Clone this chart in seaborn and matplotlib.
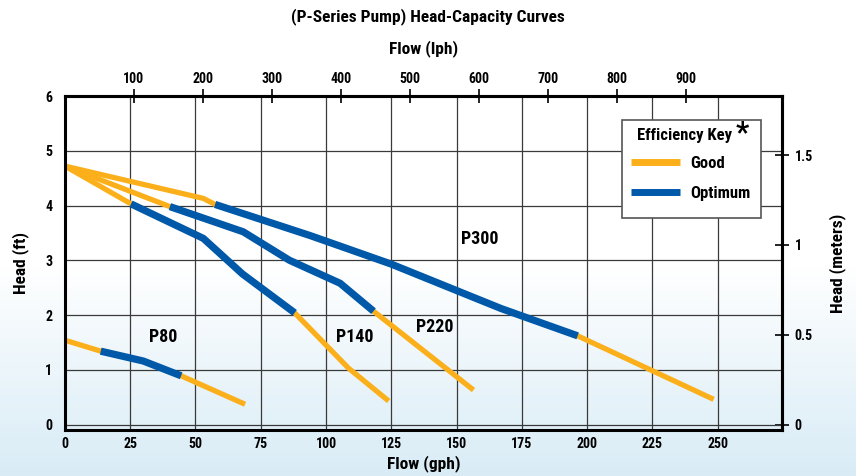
import numpy as np
import pandas as pd
import seaborn as sns
import matplotlib.pyplot as plt
from matplotlib.lines import Line2D
from matplotlib.patches import Rectangle
from matplotlib.colors import LinearSegmentedColormap

# pump curves, flow in gph, head in ft
pumps = ["P80", "P140", "P220", "P300"]

p80_good_gph = [0, 13.7, 30, 44.5, 69]
p80_good_ft = [1.54, 1.34, 1.16, 0.89, 0.37]
p80_opt_gph = [13.7, 30, 44.5]
p80_opt_ft = [1.34, 1.16, 0.89]

p140_good_gph = [0, 25.3, 53, 68, 88, 108.6, 124]
p140_good_ft = [4.72, 4.03, 3.40, 2.75, 2.04, 1.03, 0.43]
p140_opt_gph = [25.3, 53, 68, 88]
p140_opt_ft = [4.03, 3.40, 2.75, 2.04]

p220_good_gph = [0, 40.2, 68.3, 86, 105.4, 118.2, 156.5]
p220_good_ft = [4.72, 3.98, 3.52, 3.0, 2.58, 2.07, 0.63]
p220_opt_gph = [40.2, 68.3, 86, 105.4, 118.2]
p220_opt_ft = [3.98, 3.52, 3.0, 2.58, 2.07]

p300_good_gph = [0, 53, 57.5, 94, 125, 167, 196.4, 248.5]
p300_good_ft = [4.72, 4.13, 4.02, 3.45, 2.93, 2.12, 1.62, 0.46]
p300_opt_gph = [57.5, 94, 125, 167, 196.4]
p300_opt_ft = [4.02, 3.45, 2.93, 2.12, 1.62]

label_gph = [37.6, 111.2, 141.8, 159]
label_ft = [1.60, 1.59, 1.78, 3.39]

lph_ticks = [100, 200, 300, 400, 500, 600, 700, 800, 900]
meter_ticks = [0, 0.5, 1, 1.5]
meter_labels = ["0", "0.5", "1", "1.5"]

GOOD = "#fbb01b"
OPT = "#0058a8"

rows = []
curves = [
    ("P80", p80_good_gph, p80_good_ft, p80_opt_gph, p80_opt_ft),
    ("P140", p140_good_gph, p140_good_ft, p140_opt_gph, p140_opt_ft),
    ("P220", p220_good_gph, p220_good_ft, p220_opt_gph, p220_opt_ft),
    ("P300", p300_good_gph, p300_good_ft, p300_opt_gph, p300_opt_ft),
]
for name, gx, gy, ox, oy in curves:
    for x, y in zip(gx, gy):
        rows.append({"pump": name, "rating": "Good", "gph": x, "ft": y})
    for x, y in zip(ox, oy):
        rows.append({"pump": name, "rating": "Optimum", "gph": x, "ft": y})
df = pd.DataFrame(rows)

sns.set_style("white")
plt.rcParams["font.family"] = ["Roboto Condensed", "Barlow Condensed", "Archivo Narrow",
                               "PT Sans Narrow", "Liberation Sans", "DejaVu Sans"]
plt.rcParams["font.weight"] = "bold"
plt.rcParams["text.color"] = "black"
plt.rcParams["xtick.color"] = "black"
plt.rcParams["ytick.color"] = "black"
plt.rcParams["axes.labelcolor"] = "black"

fig = plt.figure(figsize=(8.56, 4.76), dpi=100)

# light blue gradient background
bg = fig.add_axes([0, 0, 1, 1], zorder=-10)
grad = np.concatenate([np.zeros(55), np.linspace(0, 1, 45)])[:, None]
cmap = LinearSegmentedColormap.from_list("bg", ["#ffffff", "#d9ecf6"])
bg.imshow(grad, aspect="auto", cmap=cmap, extent=[0, 1, 0, 1], origin="upper")
bg.axis("off")

ax = fig.add_axes([0.0759, 0.0966, 0.8377, 0.7017])
ax.set_facecolor("none")

for name in pumps:
    sub = df[(df.pump == name) & (df.rating == "Good")]
    sns.lineplot(data=sub, x="gph", y="ft", sort=False, estimator=None, ax=ax,
                 color=GOOD, linewidth=3.8, solid_capstyle="butt", zorder=3)
for name in pumps:
    sub = df[(df.pump == name) & (df.rating == "Optimum")]
    sns.lineplot(data=sub, x="gph", y="ft", sort=False, estimator=None, ax=ax,
                 color=OPT, linewidth=5.2, solid_capstyle="butt", zorder=4)

for name, x, y in zip(pumps, label_gph, label_ft):
    ax.text(x, y, name, ha="center", va="center", fontsize=13, fontweight="bold", zorder=5)

ax.set_xlim(0, 274.7)
ax.set_ylim(-0.1, 6)
ax.set_xticks(range(0, 251, 25))
ax.set_yticks(range(0, 7))
ax.grid(True, color="#3a3a3a", linewidth=0.9)
ax.tick_params(axis="both", length=0, labelsize=10)
ax.tick_params(axis="x", pad=5)
ax.tick_params(axis="y", pad=9)
for s in ax.spines.values():
    s.set_linewidth(2.2)
    s.set_color("black")
    s.set_zorder(6)

ax.set_xlabel("Flow (gph)", fontsize=12.5, fontweight="bold", labelpad=3)
ax.set_ylabel("Head (ft)", fontsize=12.5, fontweight="bold", labelpad=12)

top = ax.secondary_xaxis("top", functions=(lambda g: g * 3.785, lambda l: l / 3.785))
top.set_xticks(lph_ticks)
top.tick_params(direction="inout", length=10, width=1.2, labelsize=10, pad=2)
top.set_xlabel("Flow (lph)", fontsize=12.5, fontweight="bold", labelpad=14)
top.spines["top"].set_linewidth(2.2)

right = ax.secondary_yaxis("right", functions=(lambda f: f / 3.281, lambda m: m * 3.281))
right.set_yticks(meter_ticks)
right.set_yticklabels(meter_labels)
right.tick_params(direction="inout", length=10, width=1.2, labelsize=10, pad=4)
right.set_ylabel("Head (meters)", fontsize=12.5, fontweight="bold", labelpad=12)
right.spines["right"].set_linewidth(2.2)

# efficiency key: box, title and entries
ax.add_patch(Rectangle((0.7765, 0.634), 0.1935, 0.294, transform=ax.transAxes,
                       facecolor="white", edgecolor="#555555", linewidth=1.2,
                       zorder=9, clip_on=False))
ax.text(0.864, 0.883, "Efficiency Key", transform=ax.transAxes, fontsize=12,
        fontweight="bold", ha="center", va="center", zorder=11)
ax.text(0.945, 0.889, "*", transform=ax.transAxes, fontsize=21,
        fontweight="bold", ha="center", va="center", zorder=11)
handles = [Line2D([], [], color=GOOD, linewidth=5, solid_capstyle="butt"),
           Line2D([], [], color=OPT, linewidth=5, solid_capstyle="butt")]
leg = ax.legend(handles, ["Good", "Optimum"],
                loc="upper left", bbox_to_anchor=(0.776, 0.850), borderaxespad=0,
                frameon=False, prop={"size": 12, "weight": "bold"}, handlelength=2.9,
                handletextpad=0.6, labelspacing=0.9, borderpad=0.6)
leg.set_zorder(10)

fig.suptitle("(P-Series Pump) Head-Capacity Curves", y=0.983, fontsize=12.5, fontweight="bold")

fig.savefig("out.png", dpi=100)
